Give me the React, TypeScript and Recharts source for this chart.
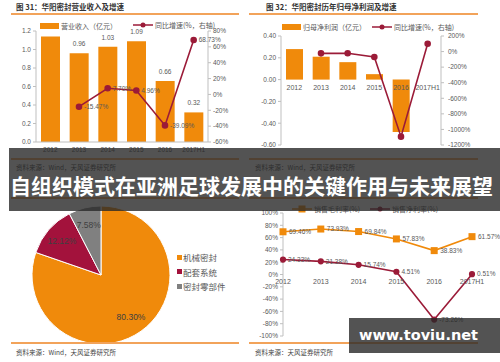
import React from 'react';
import { ComposedChart, Bar, Line, XAxis, YAxis, LabelList, PieChart, Pie, Cell } from 'recharts';

const NUM_FONT = '"Liberation Sans", Arial, "Noto Sans CJK SC", sans-serif';
const CJK_FONT = '"Noto Sans CJK SC", "Liberation Sans", sans-serif';
const ORANGE = '#F08A0B';
const MAROON = '#9B1B38';
const TEXT_GRAY = '#595959';
const AXIS_GRAY = '#BFBFBF';
const RULE = '#F2A35A';

const years = ['2012', '2013', '2014', '2015', '2016', '2017H1'];

// 图31 营业收入及增速
const revenue = [1.14, 0.96, 1.03, 1.09, 0.66, 0.32];
const revenueGrowth = [null, -15.47, 7.7, 4.96, -39.09, 68.73];
const revenueTicks = [0, 0.2, 0.4, 0.6, 0.8, 1.0, 1.2];
const revenueGrowthTicks = [-60, -40, -20, 0, 20, 40, 60, 80];

// 图32 归母净利润及增速
const netProfit = [0.28, 0.21, 0.16, 0.05, -0.48, null];
const profitGrowth = [null, -23, -22, -70, -1093, 101];
const profitTicks = [-0.6, -0.4, -0.2, 0, 0.2, 0.4];
const profitGrowthTicks = [-1200, -1000, -800, -600, -400, -200, 0, 200];

// 图33 业务构成
const segmentNames = ['机械密封', '配套系统', '密封零部件'];
const segmentShares = [80.3, 12.12, 7.58];
const segmentColors = [ORANGE, '#A3123C', '#808080'];

// 图34 毛利率与净利率
const grossMargin = [69.46, 73.93, 69.84, 57.83, 38.83, 61.57];
const netMargin = [24.33, 21.38, 15.74, 4.51, -73.26, 0.51];
const marginTicks = [-100, -80, -60, -40, -20, 0, 20, 40, 60, 80, 100];

const revenueData = years.map((y, i) => ({ year: y, revenue: revenue[i], growth: revenueGrowth[i] }));
const profitData = years.map((y, i) => ({ year: y, profit: netProfit[i], growth: profitGrowth[i] }));
const pieData = segmentNames.map((n, i) => ({ name: n, value: segmentShares[i] }));
const marginData = years.map((y, i) => ({ year: y, gross: grossMargin[i], net: netMargin[i] }));

const tickStyle = { fontSize: 6.5, fill: TEXT_GRAY, fontFamily: NUM_FONT };
const labelStyle = { fontSize: 6.5, fill: TEXT_GRAY, fontFamily: NUM_FONT };
const pct = (v: any) => (v == null ? '' : `${Number(v).toFixed(2)}%`);

// x labels sit just under the zero line instead of the plot bottom
const zeroDy = (plotH: number, min: number, max: number, gap: number) =>
  -(plotH * (0 - min)) / (max - min) + gap;

const abs = (left: number, top: number): React.CSSProperties => ({ position: 'absolute', left, top });

function Title({ left, top, text }: { left: number; top: number; text: string }) {
  return (
    <div style={{ ...abs(left, top), fontFamily: CJK_FONT, fontSize: 7.5, fontWeight: 700, color: '#333', lineHeight: '9px', whiteSpace: 'nowrap' }}>
      {text}
    </div>
  );
}

function Rule({ left, top, width }: { left: number; top: number; width: number }) {
  return <div style={{ ...abs(left, top), width, height: 1.5, background: RULE }} />;
}

function Source({ left, top, text }: { left: number; top: number; text: string }) {
  return (
    <div style={{ ...abs(left, top), fontFamily: CJK_FONT, fontSize: 6.5, color: '#444', lineHeight: '8px', whiteSpace: 'nowrap' }}>
      {text}
    </div>
  );
}

function LegendItem({ left, top, kind, color, text, bg }: { left: number; top: number; kind: string; color: string; text: string; bg?: string }) {
  let mark: React.ReactNode = null;
  if (kind === 'bar') mark = <div style={{ width: 19, height: 6, background: color }} />;
  else
    mark = (
      <svg width={20} height={8}>
        <line x1={0} y1={4} x2={20} y2={4} stroke={color} strokeWidth={1.5} />
        {kind === 'square' ? <rect x={6.5} y={0.5} width={7} height={7} fill={color} /> : <circle cx={10} cy={4} r={2.5} fill={color} />}
      </svg>
    );
  return (
    <div style={{ ...abs(left, top), display: 'flex', alignItems: 'center', gap: 2, whiteSpace: 'nowrap', fontFamily: CJK_FONT, fontSize: 7, color: TEXT_GRAY, lineHeight: '8px', background: bg, padding: bg ? '1px 0' : 0 }}>
      {mark}
      <span>{text}</span>
    </div>
  );
}

export default function App() {
  return (
    <div style={{ position: 'absolute', left: 0, top: 0, width: 500, height: 362, background: '#fff', overflow: 'hidden' }}>
      {/* 图31 */}
      <Title left={16} top={2} text="图 31：华阳密封营业收入及增速" />
      <Rule left={11} top={13} width={228} />
      <div style={abs(0, 0)}>
        <ComposedChart width={250} height={165} data={revenueData} margin={{ top: 31, right: 0, bottom: 0, left: 0 }}>
          <XAxis dataKey="year" height={23} tick={tickStyle} tickLine={false} tickSize={0} tickMargin={5} axisLine={{ stroke: AXIS_GRAY }} />
          <YAxis yAxisId="l" width={36} domain={[0, 1.2]} ticks={revenueTicks} tick={tickStyle} tickFormatter={(v) => v.toFixed(1)} axisLine={{ stroke: AXIS_GRAY }} tickLine={{ stroke: AXIS_GRAY }} tickSize={3} interval={0} />
          <YAxis yAxisId="r" orientation="right" width={42} domain={[-60, 80]} ticks={revenueGrowthTicks} tick={tickStyle} tickFormatter={(v) => `${v}%`} axisLine={{ stroke: AXIS_GRAY }} tickLine={{ stroke: AXIS_GRAY }} tickSize={3} interval={0} />
          <Bar yAxisId="l" dataKey="revenue" fill={ORANGE} barSize={19} isAnimationActive={false}>
            <LabelList dataKey="revenue" position="top" offset={7} style={labelStyle} formatter={(v: any) => Number(v).toFixed(2)} />
          </Bar>
          <Line yAxisId="r" dataKey="growth" stroke={MAROON} strokeWidth={1.6} dot={{ r: 2.5, fill: MAROON, stroke: MAROON }} isAnimationActive={false}>
            <LabelList dataKey="growth" position="right" offset={5} style={labelStyle} formatter={pct} />
          </Line>
        </ComposedChart>
      </div>
      <LegendItem left={40} top={21} kind="bar" color={ORANGE} text="营业收入（亿元）" bg="#fff" />
      <LegendItem left={133} top={21} kind="dot" color={MAROON} text="同比增速(%，右轴)" />

      {/* 图32 */}
      <Title left={266} top={2} text="图 32：华阳密封历年归母净利润及增速" />
      <Rule left={249} top={13} width={229} />
      <div style={abs(250, 0)}>
        <ComposedChart width={250} height={165} data={profitData} margin={{ top: 36, right: 0, bottom: 0, left: 0 }}>
          <YAxis yAxisId="l" width={31} domain={[-0.6, 0.4]} ticks={profitTicks} tick={tickStyle} tickFormatter={(v) => v.toFixed(2)} axisLine={{ stroke: AXIS_GRAY }} tickLine={{ stroke: AXIS_GRAY }} tickSize={3} interval={0} />
          <YAxis yAxisId="r" orientation="right" width={59} domain={[-1200, 200]} ticks={profitGrowthTicks} tick={tickStyle} tickFormatter={(v) => `${v}%`} axisLine={{ stroke: AXIS_GRAY }} tickLine={{ stroke: AXIS_GRAY }} tickSize={3} tickMargin={4} interval={0} />
          <Bar yAxisId="l" dataKey="profit" fill={ORANGE} barSize={17} isAnimationActive={false} />
          <Line yAxisId="r" dataKey="growth" stroke={MAROON} strokeWidth={1.6} dot={{ r: 2.5, fill: MAROON, stroke: MAROON }} isAnimationActive={false} />
          <XAxis dataKey="year" height={20} axisLine={false} tickLine={false} tickSize={0} tickMargin={0} tick={{ ...tickStyle, fontSize: 7, dy: zeroDy(109, -0.6, 0.4, 5) }} />
        </ComposedChart>
      </div>
      <LegendItem left={282} top={23} kind="bar" color={ORANGE} text="归母净利润（亿元）" />
      <LegendItem left={372} top={23} kind="dot" color={MAROON} text="同比增速(%，右轴)" />

      {/* bottom-of-top-row source + rules */}
      <Rule left={11} top={158} width={228} />
      <Rule left={249} top={158} width={229} />
      <Source left={16} top={163} text="资料来源：Wind，天风证券研究所" />
      <Source left={255} top={163} text="资料来源：Wind，天风证券研究所" />
      <Rule left={11} top={197} width={228} />
      <Rule left={249} top={197} width={229} />

      {/* 图33 */}
      <div style={abs(0, 170)}>
        <PieChart width={250} height={185}>
          <Pie
            data={pieData}
            dataKey="value"
            cx={96}
            cy={100}
            outerRadius={69}
            startAngle={90}
            endAngle={-270}
            stroke="#fff"
            strokeWidth={1}
            labelLine={false}
            isAnimationActive={false}
            label={(p: any) => {
              const RAD = Math.PI / 180;
              const r = p.outerRadius * 0.75;
              const x = p.cx + r * Math.cos(-p.midAngle * RAD);
              const y = p.cy + r * Math.sin(-p.midAngle * RAD);
              return (
                <text x={x} y={y} textAnchor="middle" dominantBaseline="central" fontSize={8.5} fill="#404040" fontFamily={NUM_FONT}>
                  {`${p.value.toFixed(2)}%`}
                </text>
              );
            }}
          >
            {pieData.map((d, i) => (
              <Cell key={d.name} fill={segmentColors[i]} />
            ))}
          </Pie>
        </PieChart>
      </div>
      {segmentNames.map((n, i) => (
        <div key={n} style={{ ...abs(177, 252 + i * 14.5), display: 'flex', alignItems: 'center', gap: 1, fontFamily: CJK_FONT, fontSize: 8.5, color: TEXT_GRAY, lineHeight: '10px', whiteSpace: 'nowrap' }}>
          <div style={{ width: 5, height: 5, background: segmentColors[i] }} />
          <span>{n}</span>
        </div>
      ))}
      <Rule left={11} top={342} width={228} />
      <Source left={16} top={348} text="资料来源：Wind，天风证券研究所" />

      {/* 图34 */}
      <div style={abs(250, 170)}>
        <ComposedChart width={250} height={185} data={marginData} margin={{ top: 43, right: 28, bottom: 0, left: 0 }}>
          <YAxis width={33} domain={[-100, 100]} ticks={marginTicks} tick={tickStyle} tickFormatter={(v) => `${v}%`} axisLine={{ stroke: AXIS_GRAY }} tickLine={{ stroke: AXIS_GRAY }} tickSize={3} interval={0} />
          <Line
            dataKey="gross"
            stroke={ORANGE}
            strokeWidth={1.6}
            isAnimationActive={false}
            dot={(p: any) => <rect key={p.key ?? p.index} x={p.cx - 3.5} y={p.cy - 3.5} width={7} height={7} fill={ORANGE} />}
          >
            <LabelList dataKey="gross" position="right" offset={6} style={labelStyle} formatter={pct} />
          </Line>
          <Line dataKey="net" stroke={MAROON} strokeWidth={1.6} dot={{ r: 2.3, fill: MAROON, stroke: MAROON }} isAnimationActive={false}>
            <LabelList dataKey="net" position="right" offset={5} style={labelStyle} formatter={pct} />
          </Line>
          <XAxis dataKey="year" height={19} axisLine={false} tickLine={false} tickSize={0} tickMargin={0} tick={{ ...tickStyle, fontSize: 7, dy: zeroDy(123, -100, 100, 5) }} />
        </ComposedChart>
      </div>
      <LegendItem left={292} top={205} kind="square" color={ORANGE} text="销售毛利率(%)" />
      <LegendItem left={370} top={205} kind="dot" color={MAROON} text="销售净利率(%)" />
      <Rule left={249} top={342} width={229} />
      <Source left={255} top={348} text="资料来源：天风证券研究所" />

      {/* headline banner */}
      <div style={{ ...abs(9, 148), width: 491, height: 63, background: 'rgba(40,40,40,0.8)' }} />
      <div style={{ ...abs(10, 172), fontFamily: CJK_FONT, fontWeight: 700, fontSize: 21, lineHeight: '26px', color: '#fff', whiteSpace: 'nowrap' }}>
        自组织模式在亚洲足球发展中的关键作用与未来展望
      </div>

      {/* watermark */}
      <div style={{ ...abs(349, 318), width: 151, height: 35, background: 'rgba(40,40,40,0.8)' }} />
      <div style={{ ...abs(359, 326), fontFamily: '"DejaVu Sans", sans-serif', fontWeight: 700, fontSize: 14.5, lineHeight: '18px', color: '#fff', whiteSpace: 'nowrap' }}>
        www.toviu.net
      </div>
    </div>
  );
}
